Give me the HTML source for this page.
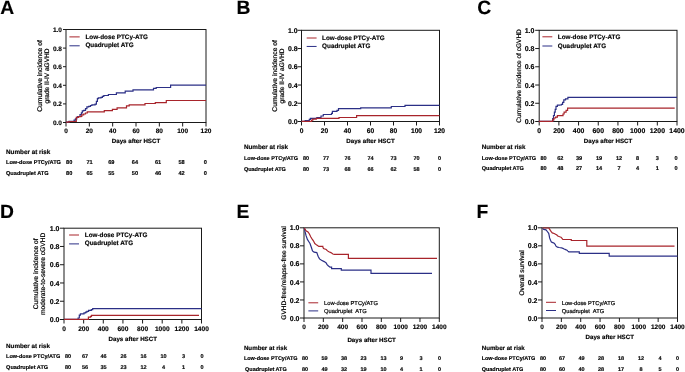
<!DOCTYPE html>
<html><head><meta charset="utf-8"><style>
html,body{margin:0;padding:0;background:#fff;width:685px;height:372px;overflow:hidden;}
svg{display:block;font-family:"Liberation Sans", sans-serif;filter:blur(0.35px);text-rendering:geometricPrecision;}
text{fill:#000;stroke:#000;stroke-width:0.15;}
.b{font-weight:bold;}
.r{font-weight:normal;stroke-width:0.2;}
.m{text-anchor:middle;}
.e{text-anchor:end;}
</style></head><body>
<svg width="685" height="372" viewBox="0 0 685 372">
<rect width="685" height="372" fill="#fff"/>
<text class="b" x="0.3" y="14" font-size="19.3">A</text>
<rect x="66" y="29.5" width="140" height="93.0" fill="none" stroke="#1a1a1a" stroke-width="1"/>
<line x1="63" y1="122.5" x2="66" y2="122.5" stroke="#1a1a1a" stroke-width="1"/>
<text class="b e" x="62.0" y="124.905" font-size="6.5">0.0</text>
<line x1="63" y1="103.9" x2="66" y2="103.9" stroke="#1a1a1a" stroke-width="1"/>
<text class="b e" x="62.0" y="106.305" font-size="6.5">0.2</text>
<line x1="63" y1="85.3" x2="66" y2="85.3" stroke="#1a1a1a" stroke-width="1"/>
<text class="b e" x="62.0" y="87.705" font-size="6.5">0.4</text>
<line x1="63" y1="66.7" x2="66" y2="66.7" stroke="#1a1a1a" stroke-width="1"/>
<text class="b e" x="62.0" y="69.105" font-size="6.5">0.6</text>
<line x1="63" y1="48.099999999999994" x2="66" y2="48.099999999999994" stroke="#1a1a1a" stroke-width="1"/>
<text class="b e" x="62.0" y="50.504999999999995" font-size="6.5">0.8</text>
<line x1="63" y1="29.5" x2="66" y2="29.5" stroke="#1a1a1a" stroke-width="1"/>
<text class="b e" x="62.0" y="31.905" font-size="6.5">1.0</text>
<line x1="66.0" y1="122.5" x2="66.0" y2="126.5" stroke="#1a1a1a" stroke-width="1"/>
<text class="b m" x="66.0" y="133.1" font-size="6.5">0</text>
<line x1="89.33333333333333" y1="122.5" x2="89.33333333333333" y2="126.5" stroke="#1a1a1a" stroke-width="1"/>
<text class="b m" x="89.33333333333333" y="133.1" font-size="6.5">20</text>
<line x1="112.66666666666666" y1="122.5" x2="112.66666666666666" y2="126.5" stroke="#1a1a1a" stroke-width="1"/>
<text class="b m" x="112.66666666666666" y="133.1" font-size="6.5">40</text>
<line x1="136.0" y1="122.5" x2="136.0" y2="126.5" stroke="#1a1a1a" stroke-width="1"/>
<text class="b m" x="136.0" y="133.1" font-size="6.5">60</text>
<line x1="159.33333333333331" y1="122.5" x2="159.33333333333331" y2="126.5" stroke="#1a1a1a" stroke-width="1"/>
<text class="b m" x="159.33333333333331" y="133.1" font-size="6.5">80</text>
<line x1="182.66666666666669" y1="122.5" x2="182.66666666666669" y2="126.5" stroke="#1a1a1a" stroke-width="1"/>
<text class="b m" x="182.66666666666669" y="133.1" font-size="6.5">100</text>
<line x1="206.0" y1="122.5" x2="206.0" y2="126.5" stroke="#1a1a1a" stroke-width="1"/>
<text class="b m" x="206.0" y="133.1" font-size="6.5">120</text>
<text class="b m" x="136.0" y="142.7" font-size="6.2">Days after HSCT</text>
<text class="r m" x="42" y="76.0" font-size="6.75" transform="rotate(-90 42 76.0)">Cumulative incidence of</text>
<text class="r m" x="49" y="76.0" font-size="6.55" transform="rotate(-90 49 76.0)">grade II-IV aGVHD</text>
<line x1="69.4" y1="36.9" x2="79.7" y2="36.9" stroke="#a8242b" stroke-width="1"/>
<line x1="69.4" y1="45.8" x2="79.7" y2="45.8" stroke="#2b2f86" stroke-width="1"/>
<text class="b" x="85.4" y="39.2" font-size="6.35">Low-dose PTCy-ATG</text>
<text class="b" x="85.4" y="47.4" font-size="6.35">Quadruplet ATG</text>
<path d="M66 122.2 H69 V121.3 H74.1 V120.2 H75.4 V118.8 H76.8 V117.4 H77.7 V116.5 H80 V114.7 H81.4 V112.9 H82.3 V110.8 H83.7 V110.3 H85.5 V108.7 H86.9 V106.9 H88.7 V106.3 H90.5 V105.5 H91.9 V104.8 H95.1 V104.2 H96.4 V101.4 H97.4 V98.7 H98.3 V97.8 H101 V97.3 H102.4 V96.4 H103.8 V95.5 H108.4 V94.5 H116.4 V92.9 H125.2 V91.1 H133 V89.8 H153.5 V88.4 H156.2 V87.5 H170.6 V85.1 H206 V85.1" fill="none" stroke="#2b2f86" stroke-width="1.2" stroke-linejoin="miter"/>
<path d="M66 122.2 H69 V121.5 H76.3 V117.4 H78.6 V116.7 H80.9 V116.3 H81.8 V114.9 H83.7 V114 H85.5 V113 H87.3 V111.9 H104.3 V110.6 H112.4 V109.3 H117.1 V107.9 H126.5 V105.9 H129.2 V104.8 H145 V103.5 H155.3 V102.6 H166.3 V100.5 H206 V100.5" fill="none" stroke="#a8242b" stroke-width="1.2" stroke-linejoin="miter"/>
<text class="b" x="6" y="154.0" font-size="6.33">Number at risk</text>
<text class="b" x="6" y="164.2" font-size="5.6">Low-dose PTCy/ATG</text>
<text class="b" x="6" y="174.6" font-size="5.6">Quadruplet ATG</text>
<text class="b m" x="69.2" y="164.2" font-size="5.6">80</text>
<text class="b m" x="69.2" y="174.6" font-size="5.6">80</text>
<text class="b m" x="89.5" y="164.2" font-size="5.6">71</text>
<text class="b m" x="89.5" y="174.6" font-size="5.6">65</text>
<text class="b m" x="111.3" y="164.2" font-size="5.6">69</text>
<text class="b m" x="111.3" y="174.6" font-size="5.6">55</text>
<text class="b m" x="134.9" y="164.2" font-size="5.6">64</text>
<text class="b m" x="134.9" y="174.6" font-size="5.6">50</text>
<text class="b m" x="158" y="164.2" font-size="5.6">61</text>
<text class="b m" x="158" y="174.6" font-size="5.6">46</text>
<text class="b m" x="181.5" y="164.2" font-size="5.6">58</text>
<text class="b m" x="181.5" y="174.6" font-size="5.6">42</text>
<text class="b m" x="205.25" y="164.2" font-size="5.6">0</text>
<text class="b m" x="205.25" y="174.6" font-size="5.6">0</text>
<text class="b" x="236.5" y="14" font-size="19.3">B</text>
<rect x="301.5" y="30.3" width="138.0" height="91.2" fill="none" stroke="#1a1a1a" stroke-width="1"/>
<line x1="297.5" y1="121.5" x2="301.5" y2="121.5" stroke="#1a1a1a" stroke-width="1"/>
<text class="b e" x="297.5" y="124.053" font-size="6.9">0.0</text>
<line x1="297.5" y1="103.25999999999999" x2="301.5" y2="103.25999999999999" stroke="#1a1a1a" stroke-width="1"/>
<text class="b e" x="297.5" y="105.81299999999999" font-size="6.9">0.2</text>
<line x1="297.5" y1="85.02" x2="301.5" y2="85.02" stroke="#1a1a1a" stroke-width="1"/>
<text class="b e" x="297.5" y="87.573" font-size="6.9">0.4</text>
<line x1="297.5" y1="66.78" x2="301.5" y2="66.78" stroke="#1a1a1a" stroke-width="1"/>
<text class="b e" x="297.5" y="69.333" font-size="6.9">0.6</text>
<line x1="297.5" y1="48.53999999999999" x2="301.5" y2="48.53999999999999" stroke="#1a1a1a" stroke-width="1"/>
<text class="b e" x="297.5" y="51.09299999999999" font-size="6.9">0.8</text>
<line x1="297.5" y1="30.299999999999997" x2="301.5" y2="30.299999999999997" stroke="#1a1a1a" stroke-width="1"/>
<text class="b e" x="297.5" y="32.852999999999994" font-size="6.9">1.0</text>
<line x1="301.5" y1="121.5" x2="301.5" y2="125.5" stroke="#1a1a1a" stroke-width="1"/>
<text class="b m" x="301.5" y="132.9" font-size="6.7">0</text>
<line x1="324.5" y1="121.5" x2="324.5" y2="125.5" stroke="#1a1a1a" stroke-width="1"/>
<text class="b m" x="324.5" y="132.9" font-size="6.7">20</text>
<line x1="347.5" y1="121.5" x2="347.5" y2="125.5" stroke="#1a1a1a" stroke-width="1"/>
<text class="b m" x="347.5" y="132.9" font-size="6.7">40</text>
<line x1="370.5" y1="121.5" x2="370.5" y2="125.5" stroke="#1a1a1a" stroke-width="1"/>
<text class="b m" x="370.5" y="132.9" font-size="6.7">60</text>
<line x1="393.5" y1="121.5" x2="393.5" y2="125.5" stroke="#1a1a1a" stroke-width="1"/>
<text class="b m" x="393.5" y="132.9" font-size="6.7">80</text>
<line x1="416.5" y1="121.5" x2="416.5" y2="125.5" stroke="#1a1a1a" stroke-width="1"/>
<text class="b m" x="416.5" y="132.9" font-size="6.7">100</text>
<line x1="439.5" y1="121.5" x2="439.5" y2="125.5" stroke="#1a1a1a" stroke-width="1"/>
<text class="b m" x="439.5" y="132.9" font-size="6.7">120</text>
<text class="b m" x="370.5" y="143.2" font-size="6.2">Days after HSCT</text>
<text class="r m" x="276.7" y="75.9" font-size="6.75" transform="rotate(-90 276.7 75.9)">Cumulative incidence of</text>
<text class="r m" x="283.9" y="75.9" font-size="6.55" transform="rotate(-90 283.9 75.9)">grade II-IV aGVHD</text>
<line x1="306.7" y1="38" x2="316.6" y2="38" stroke="#a8242b" stroke-width="1"/>
<line x1="306.7" y1="46.45" x2="316.6" y2="46.45" stroke="#2b2f86" stroke-width="1"/>
<text class="b" x="322.1" y="39.7" font-size="6.35">Low-dose PTCy-ATG</text>
<text class="b" x="322.1" y="48.2" font-size="6.35">Quadruplet ATG</text>
<path d="M301.5 121.3 H305.2 V120.6 H309.3 V119.4 H310.4 V118.3 H316.9 V117.5 H321 V116 H323.3 V114.5 H331.5 V113.4 H332.4 V111.4 H337 V110.4 H338.5 V108.7 H360.7 V107.8 H391.3 V106.5 H405 V105.4 H439.5 V105.4" fill="none" stroke="#2b2f86" stroke-width="1.2" stroke-linejoin="miter"/>
<path d="M301.5 121.3 H311.6 V120.1 H312.8 V119.2 H316.3 V118.4 H339 V117.5 H356.6 V115.7 H439.5 V115.7" fill="none" stroke="#a8242b" stroke-width="1.2" stroke-linejoin="miter"/>
<text class="b" x="243.9" y="149.4" font-size="6.3">Number at risk</text>
<text class="b" x="243.9" y="160" font-size="5.53">Low-dose PTCy/ATG</text>
<text class="b" x="243.9" y="170.5" font-size="5.53">Quadruplet ATG</text>
<text class="b m" x="306" y="160" font-size="5.53">80</text>
<text class="b m" x="306" y="170.5" font-size="5.53">80</text>
<text class="b m" x="326" y="160" font-size="5.53">77</text>
<text class="b m" x="326" y="170.5" font-size="5.53">73</text>
<text class="b m" x="347.5" y="160" font-size="5.53">76</text>
<text class="b m" x="347.5" y="170.5" font-size="5.53">68</text>
<text class="b m" x="370.5" y="160" font-size="5.53">74</text>
<text class="b m" x="370.5" y="170.5" font-size="5.53">66</text>
<text class="b m" x="393.5" y="160" font-size="5.53">73</text>
<text class="b m" x="393.5" y="170.5" font-size="5.53">62</text>
<text class="b m" x="416.5" y="160" font-size="5.53">70</text>
<text class="b m" x="416.5" y="170.5" font-size="5.53">58</text>
<text class="b m" x="439.5" y="160" font-size="5.53">0</text>
<text class="b m" x="439.5" y="170.5" font-size="5.53">0</text>
<text class="b" x="477.3" y="14" font-size="19.3">C</text>
<rect x="539.2" y="30.3" width="137.79999999999995" height="91.2" fill="none" stroke="#1a1a1a" stroke-width="1"/>
<line x1="535.2" y1="121.5" x2="539.2" y2="121.5" stroke="#1a1a1a" stroke-width="1"/>
<text class="b e" x="534.4000000000001" y="124.09" font-size="7.0">0.0</text>
<line x1="535.2" y1="103.25999999999999" x2="539.2" y2="103.25999999999999" stroke="#1a1a1a" stroke-width="1"/>
<text class="b e" x="534.4000000000001" y="105.85" font-size="7.0">0.2</text>
<line x1="535.2" y1="85.02" x2="539.2" y2="85.02" stroke="#1a1a1a" stroke-width="1"/>
<text class="b e" x="534.4000000000001" y="87.61" font-size="7.0">0.4</text>
<line x1="535.2" y1="66.78" x2="539.2" y2="66.78" stroke="#1a1a1a" stroke-width="1"/>
<text class="b e" x="534.4000000000001" y="69.37" font-size="7.0">0.6</text>
<line x1="535.2" y1="48.53999999999999" x2="539.2" y2="48.53999999999999" stroke="#1a1a1a" stroke-width="1"/>
<text class="b e" x="534.4000000000001" y="51.129999999999995" font-size="7.0">0.8</text>
<line x1="535.2" y1="30.299999999999997" x2="539.2" y2="30.299999999999997" stroke="#1a1a1a" stroke-width="1"/>
<text class="b e" x="534.4000000000001" y="32.89" font-size="7.0">1.0</text>
<line x1="539.2" y1="121.5" x2="539.2" y2="125.5" stroke="#1a1a1a" stroke-width="1"/>
<text class="b m" x="539.2" y="132.6" font-size="6.9">0</text>
<line x1="558.8857142857144" y1="121.5" x2="558.8857142857144" y2="125.5" stroke="#1a1a1a" stroke-width="1"/>
<text class="b m" x="558.8857142857144" y="132.6" font-size="6.9">200</text>
<line x1="578.5714285714286" y1="121.5" x2="578.5714285714286" y2="125.5" stroke="#1a1a1a" stroke-width="1"/>
<text class="b m" x="578.5714285714286" y="132.6" font-size="6.9">400</text>
<line x1="598.2571428571429" y1="121.5" x2="598.2571428571429" y2="125.5" stroke="#1a1a1a" stroke-width="1"/>
<text class="b m" x="598.2571428571429" y="132.6" font-size="6.9">600</text>
<line x1="617.9428571428572" y1="121.5" x2="617.9428571428572" y2="125.5" stroke="#1a1a1a" stroke-width="1"/>
<text class="b m" x="617.9428571428572" y="132.6" font-size="6.9">800</text>
<line x1="637.6285714285715" y1="121.5" x2="637.6285714285715" y2="125.5" stroke="#1a1a1a" stroke-width="1"/>
<text class="b m" x="637.6285714285715" y="132.6" font-size="6.9">1000</text>
<line x1="657.3142857142857" y1="121.5" x2="657.3142857142857" y2="125.5" stroke="#1a1a1a" stroke-width="1"/>
<text class="b m" x="657.3142857142857" y="132.6" font-size="6.9">1200</text>
<line x1="677.0" y1="121.5" x2="677.0" y2="125.5" stroke="#1a1a1a" stroke-width="1"/>
<text class="b m" x="677.0" y="132.6" font-size="6.9">1400</text>
<text class="b m" x="608.1" y="143" font-size="6.2">Days after HSCT</text>
<text class="r m" x="521" y="75.9" font-size="6.55" transform="rotate(-90 521 75.9)">Cumulative incidence of cGVHD</text>
<line x1="542.4" y1="36.8" x2="552.3" y2="36.8" stroke="#a8242b" stroke-width="1"/>
<line x1="542.4" y1="46" x2="552.3" y2="46" stroke="#2b2f86" stroke-width="1"/>
<text class="b" x="557.8" y="38.9" font-size="6.35">Low-dose PTCy-ATG</text>
<text class="b" x="557.8" y="47.6" font-size="6.35">Quadruplet ATG</text>
<path d="M538.8 121.3 H551.5 V121.3 H552.7 V118.6 H553.5 V115.5 H554.4 V112.2 H555.2 V109.3 H556 V106.4 H557.4 V105.2 H559.7 V105 H561.4 V104.3 H562.6 V102.3 H563.8 V99.9 H565.5 V98.8 H567.9 V97.4 H677 V97.4" fill="none" stroke="#2b2f86" stroke-width="1.2" stroke-linejoin="miter"/>
<path d="M538.8 121.3 H551.5 V121.3 H552.7 V119.8 H553.9 V118 H555.6 V117.1 H557.4 V115.7 H563 V114 H564.1 V112.2 H566.1 V110.4 H567.6 V108.1 H674.7 V108.1" fill="none" stroke="#a8242b" stroke-width="1.2" stroke-linejoin="miter"/>
<text class="b" x="481.7" y="149.4" font-size="6.28">Number at risk</text>
<text class="b" x="481.7" y="160" font-size="5.55">Low-dose PTCy/ATG</text>
<text class="b" x="481.7" y="170.3" font-size="5.55">Quadruplet ATG</text>
<text class="b m" x="543.5" y="160" font-size="5.55">80</text>
<text class="b m" x="543.5" y="170.3" font-size="5.55">80</text>
<text class="b m" x="560.25" y="160" font-size="5.55">62</text>
<text class="b m" x="560.25" y="170.3" font-size="5.55">48</text>
<text class="b m" x="579" y="160" font-size="5.55">39</text>
<text class="b m" x="579" y="170.3" font-size="5.55">27</text>
<text class="b m" x="599" y="160" font-size="5.55">19</text>
<text class="b m" x="599" y="170.3" font-size="5.55">14</text>
<text class="b m" x="619" y="160" font-size="5.55">12</text>
<text class="b m" x="619" y="170.3" font-size="5.55">7</text>
<text class="b m" x="637.5" y="160" font-size="5.55">8</text>
<text class="b m" x="637.5" y="170.3" font-size="5.55">4</text>
<text class="b m" x="657.25" y="160" font-size="5.55">3</text>
<text class="b m" x="657.25" y="170.3" font-size="5.55">1</text>
<text class="b m" x="676" y="160" font-size="5.55">0</text>
<text class="b m" x="676" y="170.3" font-size="5.55">0</text>
<text class="b" x="0" y="217.6" font-size="19.3">D</text>
<rect x="64" y="228.2" width="137.5" height="91.30000000000001" fill="none" stroke="#1a1a1a" stroke-width="1"/>
<line x1="60" y1="319.5" x2="64" y2="319.5" stroke="#1a1a1a" stroke-width="1"/>
<text class="b e" x="59.5" y="322.09" font-size="7.0">0.0</text>
<line x1="60" y1="301.24" x2="64" y2="301.24" stroke="#1a1a1a" stroke-width="1"/>
<text class="b e" x="59.5" y="303.83" font-size="7.0">0.2</text>
<line x1="60" y1="282.98" x2="64" y2="282.98" stroke="#1a1a1a" stroke-width="1"/>
<text class="b e" x="59.5" y="285.57" font-size="7.0">0.4</text>
<line x1="60" y1="264.71999999999997" x2="64" y2="264.71999999999997" stroke="#1a1a1a" stroke-width="1"/>
<text class="b e" x="59.5" y="267.30999999999995" font-size="7.0">0.6</text>
<line x1="60" y1="246.45999999999998" x2="64" y2="246.45999999999998" stroke="#1a1a1a" stroke-width="1"/>
<text class="b e" x="59.5" y="249.04999999999998" font-size="7.0">0.8</text>
<line x1="60" y1="228.2" x2="64" y2="228.2" stroke="#1a1a1a" stroke-width="1"/>
<text class="b e" x="59.5" y="230.79" font-size="7.0">1.0</text>
<line x1="64.0" y1="319.5" x2="64.0" y2="323.5" stroke="#1a1a1a" stroke-width="1"/>
<text class="b m" x="64.0" y="330.6" font-size="6.6">0</text>
<line x1="83.64285714285714" y1="319.5" x2="83.64285714285714" y2="323.5" stroke="#1a1a1a" stroke-width="1"/>
<text class="b m" x="83.64285714285714" y="330.6" font-size="6.6">200</text>
<line x1="103.28571428571428" y1="319.5" x2="103.28571428571428" y2="323.5" stroke="#1a1a1a" stroke-width="1"/>
<text class="b m" x="103.28571428571428" y="330.6" font-size="6.6">400</text>
<line x1="122.92857142857143" y1="319.5" x2="122.92857142857143" y2="323.5" stroke="#1a1a1a" stroke-width="1"/>
<text class="b m" x="122.92857142857143" y="330.6" font-size="6.6">600</text>
<line x1="142.57142857142856" y1="319.5" x2="142.57142857142856" y2="323.5" stroke="#1a1a1a" stroke-width="1"/>
<text class="b m" x="142.57142857142856" y="330.6" font-size="6.6">800</text>
<line x1="162.21428571428572" y1="319.5" x2="162.21428571428572" y2="323.5" stroke="#1a1a1a" stroke-width="1"/>
<text class="b m" x="162.21428571428572" y="330.6" font-size="6.6">1000</text>
<line x1="181.85714285714286" y1="319.5" x2="181.85714285714286" y2="323.5" stroke="#1a1a1a" stroke-width="1"/>
<text class="b m" x="181.85714285714286" y="330.6" font-size="6.6">1200</text>
<line x1="201.5" y1="319.5" x2="201.5" y2="323.5" stroke="#1a1a1a" stroke-width="1"/>
<text class="b m" x="201.5" y="330.6" font-size="6.6">1400</text>
<text class="b m" x="132.75" y="341.2" font-size="6.2">Days after HSCT</text>
<text class="r m" x="38.2" y="273.85" font-size="6.7" transform="rotate(-90 38.2 273.85)">Cumulative incidence of</text>
<text class="r m" x="45.4" y="273.85" font-size="6.63" transform="rotate(-90 45.4 273.85)">moderate-to-severe cGVHD</text>
<line x1="69.1" y1="235" x2="79" y2="235" stroke="#a8242b" stroke-width="1"/>
<line x1="69.1" y1="243.9" x2="79" y2="243.9" stroke="#2b2f86" stroke-width="1"/>
<text class="b" x="84.8" y="236.7" font-size="6.35">Low-dose PTCy-ATG</text>
<text class="b" x="84.8" y="245.4" font-size="6.35">Quadruplet ATG</text>
<path d="M64 319.3 H76.9 V319.3 H78.1 V318 H79.3 V315.1 H80.4 V313.9 H84 V312.8 H85.7 V312.2 H86.9 V311.4 H88.6 V310.4 H91.3 V309.6 H92.7 V308.7 H201.5 V308.7" fill="none" stroke="#2b2f86" stroke-width="1.2" stroke-linejoin="miter"/>
<path d="M64 319.3 H88 V319.3 H88.4 V317.2 H90.6 V316.3 H91.5 V315.3 H199 V315.3" fill="none" stroke="#a8242b" stroke-width="1.2" stroke-linejoin="miter"/>
<text class="b" x="6.1" y="347.5" font-size="6.25">Number at risk</text>
<text class="b" x="6.1" y="358" font-size="5.53">Low-dose PTCy/ATG</text>
<text class="b" x="6.1" y="368.5" font-size="5.53">Quadruplet ATG</text>
<text class="b m" x="68" y="358" font-size="5.53">80</text>
<text class="b m" x="68" y="368.5" font-size="5.53">80</text>
<text class="b m" x="85" y="358" font-size="5.53">67</text>
<text class="b m" x="85" y="368.5" font-size="5.53">56</text>
<text class="b m" x="103.5" y="358" font-size="5.53">46</text>
<text class="b m" x="103.5" y="368.5" font-size="5.53">35</text>
<text class="b m" x="123.5" y="358" font-size="5.53">26</text>
<text class="b m" x="123.5" y="368.5" font-size="5.53">23</text>
<text class="b m" x="143.5" y="358" font-size="5.53">16</text>
<text class="b m" x="143.5" y="368.5" font-size="5.53">12</text>
<text class="b m" x="163.5" y="358" font-size="5.53">10</text>
<text class="b m" x="163.5" y="368.5" font-size="5.53">4</text>
<text class="b m" x="183.5" y="358" font-size="5.53">3</text>
<text class="b m" x="183.5" y="368.5" font-size="5.53">1</text>
<text class="b m" x="202" y="358" font-size="5.53">0</text>
<text class="b m" x="202" y="368.5" font-size="5.53">0</text>
<text class="b" x="236.4" y="217.6" font-size="19.3">E</text>
<rect x="304.0" y="227.8" width="135.3" height="90.19999999999999" fill="none" stroke="#1a1a1a" stroke-width="1"/>
<line x1="300.0" y1="318.0" x2="304.0" y2="318.0" stroke="#1a1a1a" stroke-width="1"/>
<text class="b e" x="299.5" y="320.59" font-size="7.0">0.0</text>
<line x1="300.0" y1="299.96" x2="304.0" y2="299.96" stroke="#1a1a1a" stroke-width="1"/>
<text class="b e" x="299.5" y="302.54999999999995" font-size="7.0">0.2</text>
<line x1="300.0" y1="281.92" x2="304.0" y2="281.92" stroke="#1a1a1a" stroke-width="1"/>
<text class="b e" x="299.5" y="284.51" font-size="7.0">0.4</text>
<line x1="300.0" y1="263.88" x2="304.0" y2="263.88" stroke="#1a1a1a" stroke-width="1"/>
<text class="b e" x="299.5" y="266.46999999999997" font-size="7.0">0.6</text>
<line x1="300.0" y1="245.84" x2="304.0" y2="245.84" stroke="#1a1a1a" stroke-width="1"/>
<text class="b e" x="299.5" y="248.43" font-size="7.0">0.8</text>
<line x1="300.0" y1="227.8" x2="304.0" y2="227.8" stroke="#1a1a1a" stroke-width="1"/>
<text class="b e" x="299.5" y="230.39000000000001" font-size="7.0">1.0</text>
<line x1="304.0" y1="318" x2="304.0" y2="322" stroke="#1a1a1a" stroke-width="1"/>
<text class="b m" x="304.0" y="329.2" font-size="6.5">0</text>
<line x1="323.3285714285714" y1="318" x2="323.3285714285714" y2="322" stroke="#1a1a1a" stroke-width="1"/>
<text class="b m" x="323.3285714285714" y="329.2" font-size="6.5">200</text>
<line x1="342.65714285714284" y1="318" x2="342.65714285714284" y2="322" stroke="#1a1a1a" stroke-width="1"/>
<text class="b m" x="342.65714285714284" y="329.2" font-size="6.5">400</text>
<line x1="361.98571428571427" y1="318" x2="361.98571428571427" y2="322" stroke="#1a1a1a" stroke-width="1"/>
<text class="b m" x="361.98571428571427" y="329.2" font-size="6.5">600</text>
<line x1="381.3142857142857" y1="318" x2="381.3142857142857" y2="322" stroke="#1a1a1a" stroke-width="1"/>
<text class="b m" x="381.3142857142857" y="329.2" font-size="6.5">800</text>
<line x1="400.6428571428571" y1="318" x2="400.6428571428571" y2="322" stroke="#1a1a1a" stroke-width="1"/>
<text class="b m" x="400.6428571428571" y="329.2" font-size="6.5">1000</text>
<line x1="419.9714285714286" y1="318" x2="419.9714285714286" y2="322" stroke="#1a1a1a" stroke-width="1"/>
<text class="b m" x="419.9714285714286" y="329.2" font-size="6.5">1200</text>
<line x1="439.3" y1="318" x2="439.3" y2="322" stroke="#1a1a1a" stroke-width="1"/>
<text class="b m" x="439.3" y="329.2" font-size="6.5">1400</text>
<text class="b m" x="371.65" y="341.9" font-size="6.2">Days after HSCT</text>
<text class="r m" x="286" y="272.9" font-size="6.59" transform="rotate(-90 286 272.9)">GVHD-free/relapse-free survival</text>
<line x1="308.4" y1="302.8" x2="318.2" y2="302.8" stroke="#a8242b" stroke-width="1"/>
<line x1="308.4" y1="310.9" x2="318.2" y2="310.9" stroke="#2b2f86" stroke-width="1"/>
<text class="r" x="324" y="305" font-size="5.75">Low-dose PTCy/ATG</text>
<text class="r" x="324" y="313.1" font-size="5.75">Quadruplet&#160; ATG</text>
<path d="M304.4 228 L305 231.4 L306 235.4 L307.4 239.4 L308.7 241.5 L310 243.5 L311.4 247.5 L312.5 250.9 L314.1 252.2 L316.8 252.6 L318.1 256.2 L319.5 258.9 L321.5 260.3 L324.2 261.6 L326.2 263 L326.9 264.3 L328.2 265.7 L330 267.2 H331.6 V268.6 H341.3 V270.2 H371 V273.4 H432 V273.4" fill="none" stroke="#2b2f86" stroke-width="1.2" stroke-linejoin="miter"/>
<path d="M304.4 228 L306 230.7 L308 232 L309.4 234 L310.7 236.8 L312 238.8 L313.4 240.8 L314.8 243.5 L316.8 245.1 L318.8 246.4 H322.8 V246.8 L323.5 248.6 L326.2 249.5 L327.5 250.9 L328.9 251.8 L330.9 252.6 L332.9 254 L334.3 254.4 H348.4 V258.3 H437 V258.3" fill="none" stroke="#a8242b" stroke-width="1.2" stroke-linejoin="miter"/>
<text class="b" x="243.9" y="349.8" font-size="6.2">Number at risk</text>
<text class="b" x="243.9" y="360.3" font-size="5.47">Low-dose PTCy/ATG</text>
<text class="b" x="245.1" y="370.6" font-size="5.47">Quadruplet ATG</text>
<text class="b m" x="305" y="360.3" font-size="5.47">80</text>
<text class="b m" x="305" y="370.6" font-size="5.47">80</text>
<text class="b m" x="324.5" y="360.3" font-size="5.47">59</text>
<text class="b m" x="324.5" y="370.6" font-size="5.47">49</text>
<text class="b m" x="344" y="360.3" font-size="5.47">38</text>
<text class="b m" x="344" y="370.6" font-size="5.47">32</text>
<text class="b m" x="363.5" y="360.3" font-size="5.47">23</text>
<text class="b m" x="363.5" y="370.6" font-size="5.47">19</text>
<text class="b m" x="383.5" y="360.3" font-size="5.47">13</text>
<text class="b m" x="383.5" y="370.6" font-size="5.47">10</text>
<text class="b m" x="401.5" y="360.3" font-size="5.47">9</text>
<text class="b m" x="401.5" y="370.6" font-size="5.47">4</text>
<text class="b m" x="421" y="360.3" font-size="5.47">3</text>
<text class="b m" x="421" y="370.6" font-size="5.47">1</text>
<text class="b m" x="439.5" y="360.3" font-size="5.47">0</text>
<text class="b m" x="439.5" y="370.6" font-size="5.47">0</text>
<text class="b" x="476.6" y="217.6" font-size="19.3">F</text>
<rect x="542.0" y="227.8" width="135.5" height="90.19999999999999" fill="none" stroke="#1a1a1a" stroke-width="1"/>
<line x1="538.0" y1="318.0" x2="542.0" y2="318.0" stroke="#1a1a1a" stroke-width="1"/>
<text class="b e" x="537.5" y="320.59" font-size="7.0">0.0</text>
<line x1="538.0" y1="299.96" x2="542.0" y2="299.96" stroke="#1a1a1a" stroke-width="1"/>
<text class="b e" x="537.5" y="302.54999999999995" font-size="7.0">0.2</text>
<line x1="538.0" y1="281.92" x2="542.0" y2="281.92" stroke="#1a1a1a" stroke-width="1"/>
<text class="b e" x="537.5" y="284.51" font-size="7.0">0.4</text>
<line x1="538.0" y1="263.88" x2="542.0" y2="263.88" stroke="#1a1a1a" stroke-width="1"/>
<text class="b e" x="537.5" y="266.46999999999997" font-size="7.0">0.6</text>
<line x1="538.0" y1="245.84" x2="542.0" y2="245.84" stroke="#1a1a1a" stroke-width="1"/>
<text class="b e" x="537.5" y="248.43" font-size="7.0">0.8</text>
<line x1="538.0" y1="227.8" x2="542.0" y2="227.8" stroke="#1a1a1a" stroke-width="1"/>
<text class="b e" x="537.5" y="230.39000000000001" font-size="7.0">1.0</text>
<line x1="542.0" y1="318" x2="542.0" y2="322" stroke="#1a1a1a" stroke-width="1"/>
<text class="b m" x="542.0" y="329.1" font-size="6.5">0</text>
<line x1="561.3571428571429" y1="318" x2="561.3571428571429" y2="322" stroke="#1a1a1a" stroke-width="1"/>
<text class="b m" x="561.3571428571429" y="329.1" font-size="6.5">200</text>
<line x1="580.7142857142857" y1="318" x2="580.7142857142857" y2="322" stroke="#1a1a1a" stroke-width="1"/>
<text class="b m" x="580.7142857142857" y="329.1" font-size="6.5">400</text>
<line x1="600.0714285714286" y1="318" x2="600.0714285714286" y2="322" stroke="#1a1a1a" stroke-width="1"/>
<text class="b m" x="600.0714285714286" y="329.1" font-size="6.5">600</text>
<line x1="619.4285714285714" y1="318" x2="619.4285714285714" y2="322" stroke="#1a1a1a" stroke-width="1"/>
<text class="b m" x="619.4285714285714" y="329.1" font-size="6.5">800</text>
<line x1="638.7857142857143" y1="318" x2="638.7857142857143" y2="322" stroke="#1a1a1a" stroke-width="1"/>
<text class="b m" x="638.7857142857143" y="329.1" font-size="6.5">1000</text>
<line x1="658.1428571428571" y1="318" x2="658.1428571428571" y2="322" stroke="#1a1a1a" stroke-width="1"/>
<text class="b m" x="658.1428571428571" y="329.1" font-size="6.5">1200</text>
<line x1="677.5" y1="318" x2="677.5" y2="322" stroke="#1a1a1a" stroke-width="1"/>
<text class="b m" x="677.5" y="329.1" font-size="6.5">1400</text>
<text class="b m" x="609.75" y="339.1" font-size="6.2">Days after HSCT</text>
<text class="r m" x="523.7" y="272.9" font-size="6.63" transform="rotate(-90 523.7 272.9)">Overall survival</text>
<line x1="546" y1="302.3" x2="556" y2="302.3" stroke="#a8242b" stroke-width="1"/>
<line x1="546" y1="310.5" x2="556" y2="310.5" stroke="#2b2f86" stroke-width="1"/>
<text class="r" x="561.8" y="304.8" font-size="5.7">Low-dose PTCy/ATG</text>
<text class="r" x="561.8" y="312.5" font-size="5.7">Quadruplet&#160; ATG</text>
<path d="M542.6 228.4 L543.7 229.4 L546 229.8 L547.3 231.5 L548.7 233.3 L549.1 235.1 L549.6 237.9 L550.5 240.2 L551.4 242 L552.8 242.6 L554.2 243.2 L555.1 244.3 L556 246.1 L557.4 247.2 L559.2 247.5 L561.5 247.8 L562.9 248.4 L564.2 249 L565.6 249.6 L567 250.2 L567.9 251.1 L568.8 251.8 H579.3 V253.4 H609.2 V256.1 H677.5 V256.1" fill="none" stroke="#2b2f86" stroke-width="1.2" stroke-linejoin="miter"/>
<path d="M542.6 228 H548.7 V228 L549.6 229.2 L550.5 230.6 L551.4 231.9 L552.3 232.9 L554.2 233.5 L555.5 234.2 L556.9 235 L557.8 236.1 L559.7 236.8 L561 237.2 L562 238.3 L562.9 239.5 H571.3 V240.5 H586.8 V246.2 H674.5 V246.2" fill="none" stroke="#a8242b" stroke-width="1.2" stroke-linejoin="miter"/>
<text class="b" x="481.7" y="349.8" font-size="6.16">Number at risk</text>
<text class="b" x="481.7" y="360.3" font-size="5.47">Low-dose PTCy/ATG</text>
<text class="b" x="481.7" y="370.6" font-size="5.47">Quadruplet ATG</text>
<text class="b m" x="543" y="360.3" font-size="5.47">80</text>
<text class="b m" x="543" y="370.6" font-size="5.47">80</text>
<text class="b m" x="562" y="360.3" font-size="5.47">67</text>
<text class="b m" x="562" y="370.6" font-size="5.47">60</text>
<text class="b m" x="581.5" y="360.3" font-size="5.47">49</text>
<text class="b m" x="581.5" y="370.6" font-size="5.47">40</text>
<text class="b m" x="601" y="360.3" font-size="5.47">28</text>
<text class="b m" x="601" y="370.6" font-size="5.47">28</text>
<text class="b m" x="621" y="360.3" font-size="5.47">18</text>
<text class="b m" x="621" y="370.6" font-size="5.47">17</text>
<text class="b m" x="641" y="360.3" font-size="5.47">12</text>
<text class="b m" x="641" y="370.6" font-size="5.47">8</text>
<text class="b m" x="660" y="360.3" font-size="5.47">4</text>
<text class="b m" x="660" y="370.6" font-size="5.47">5</text>
<text class="b m" x="677.5" y="360.3" font-size="5.47">0</text>
<text class="b m" x="677.5" y="370.6" font-size="5.47">0</text>
</svg>
</body></html>
